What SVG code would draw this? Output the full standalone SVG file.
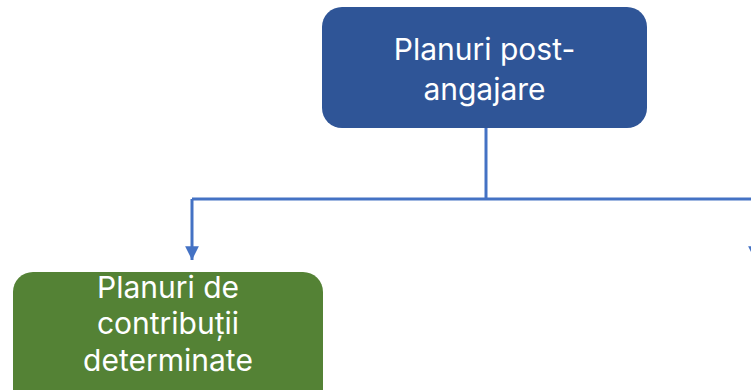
<svg xmlns="http://www.w3.org/2000/svg" width="751" height="390" viewBox="0 0 751 390">
<style>
.lbl{font-family:"Inter","Open Sans","Liberation Sans",sans-serif;font-size:30px;fill:#ffffff;text-anchor:middle}
.conn{stroke:#4472C4;stroke-width:3;fill:none}
</style>
<defs>
<marker id="arr" viewBox="0 0 10 10" refX="10" refY="5" markerWidth="4.6" markerHeight="4.6" markerUnits="strokeWidth" orient="auto">
<path d="M0,0 L10,5 L0,10 z" fill="#4472C4"/>
</marker>
</defs>
<rect width="751" height="390" fill="#ffffff"/>
<g id="connectors">
<path class="conn" d="M486,128 V199"/>
<path class="conn" d="M192,199 H760"/>
<path class="conn" d="M192,199 V260" marker-end="url(#arr)"/>
<path class="conn" d="M755,199 V260" marker-end="url(#arr)"/>
</g>
<g id="node-root">
<rect x="322" y="7" width="325" height="121" rx="20" fill="#2F5597"/>
<text class="lbl" x="484.5" y="60">Planuri post-</text>
<text class="lbl" x="484.5" y="100">angajare</text>
</g>
<g id="node-contributii">
<rect x="13" y="272" width="310" height="140" rx="20" fill="#548235"/>
<text class="lbl" x="168" y="297.5">Planuri de</text>
<text class="lbl" x="168" y="334">contribuții</text>
<text class="lbl" x="168" y="370.5">determinate</text>
</g>
</svg>
